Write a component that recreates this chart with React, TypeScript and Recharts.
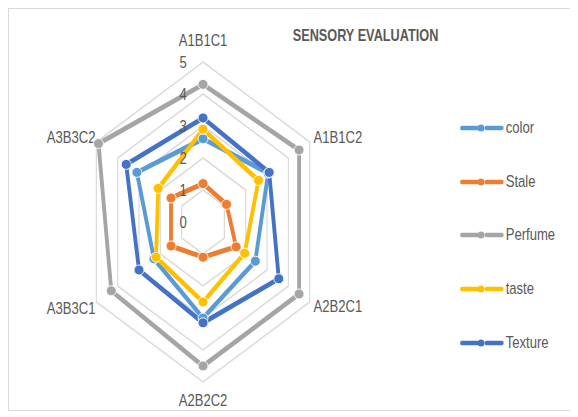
import React from 'react';
import { RadarChart, Radar, PolarGrid, PolarAngleAxis, PolarRadiusAxis, Legend } from 'recharts';

// values
const categories = ['A1B1C1', 'A1B1C2', 'A2B2C1', 'A2B2C2', 'A3B3C1', 'A3B3C2'];
const color = [2.6, 3.05, 2.45, 3.0, 2.3, 3.1];
const stale = [1.2, 1.1, 1.55, 1.1, 1.5, 1.5];
const perfume = [4.3, 4.5, 4.5, 4.5, 4.3, 4.9];
const taste = [2.9, 2.6, 1.95, 2.5, 2.2, 2.1];
const texture = [3.25, 3.1, 3.55, 3.15, 3.0, 3.6];
const radiusTicks = [0, 1, 2, 3, 4, 5];

const SERIES = [
  { key: 'color', values: color, stroke: '#5B9BD5' },
  { key: 'Stale', values: stale, stroke: '#ED7D31' },
  { key: 'Perfume', values: perfume, stroke: '#A5A5A5' },
  { key: 'taste', values: taste, stroke: '#FFC000' },
  { key: 'Texture', values: texture, stroke: '#4472C4' },
];

const data = categories.map((name, i) => {
  const row: Record<string, string | number> = { name };
  SERIES.forEach((s) => {
    row[s.key] = s.values[i];
  });
  return row;
});

// the original picture is squeezed horizontally, so draw wide and squeeze
const SX = 0.77;
const W = 564 / SX;
const H = 401;
const CX = 252;
const CY = 213;
const R = 160;
const FONT = '"Liberation Sans", Arial, sans-serif';
const GREY = '#595959';

const AngleTick = (props: any) => {
  const idx = categories.indexOf(props.payload.value);
  const ang = ((90 - 60 * idx) * Math.PI) / 180;
  const vx = CX + R * Math.cos(ang);
  const vy = CY - R * Math.sin(ang);
  let x = vx;
  let y = vy;
  let anchor: 'start' | 'middle' | 'end' = 'middle';
  if (idx === 0) y = vy - 22;
  else if (idx === 3) y = vy + 18;
  else if (idx === 1 || idx === 2) {
    x = vx + 5;
    anchor = 'start';
    y = idx === 1 ? vy - 5 : vy + 4;
  } else {
    x = vx - 1;
    anchor = 'end';
    y = idx === 5 ? vy - 5 : vy + 6;
  }
  return (
    <text x={x} y={y} textAnchor={anchor} dominantBaseline="central" fill={GREY} fontSize={17} fontFamily={FONT}>
      {props.payload.value}
    </text>
  );
};

const RadiusTick = (props: any) => (
  <text x={props.x - 26} y={props.y} textAnchor="middle" dominantBaseline="central" fill={GREY} fontSize={17} fontFamily={FONT}>
    {props.payload.value}
  </text>
);

const makeDot = (fill: string) => (props: any) => (
  <ellipse key={`dot-${fill}-${props.index}`} cx={props.cx} cy={props.cy} rx={5 / SX} ry={5} fill={fill} stroke="#fff" strokeWidth={1} />
);

const LegendContent = () => (
  <div style={{ position: 'relative', width: W, height: H }}>
    {SERIES.map((s, i) => (
      <div key={s.key} style={{ position: 'absolute', left: 586, top: 119 + i * 53.7, height: 0 }}>
        <svg width={60} height={12} style={{ position: 'absolute', left: 0, top: -6 }}>
          <line x1={2} y1={6} x2={22} y2={6} stroke={s.stroke} strokeWidth={4.7} strokeLinecap="round" />
          <ellipse cx={27} cy={6} rx={3.5 / SX} ry={3.5} fill={s.stroke} />
          <line x1={34} y1={6} x2={54} y2={6} stroke={s.stroke} strokeWidth={4.7} strokeLinecap="round" />
        </svg>
        <span
          style={{
            position: 'absolute',
            left: 59,
            top: -11,
            fontFamily: FONT,
            fontSize: 17,
            lineHeight: '22px',
            color: GREY,
            whiteSpace: 'nowrap',
          }}
        >
          {s.key}
        </span>
      </div>
    ))}
  </div>
);

export default function App() {
  return (
    <div
      style={{
        position: 'relative',
        width: 566,
        height: 403,
        border: '1px solid #D9D9D9',
        boxSizing: 'border-box',
        overflow: 'hidden',
        background: '#fff',
      }}
    >
      <div style={{ position: 'absolute', left: 0, top: 0, width: W, height: H, transform: `scaleX(${SX})`, transformOrigin: '0 0' }}>
        <div
          style={{
            position: 'absolute',
            left: 463,
            top: 25.5,
            transform: 'translate(-50%, -50%)',
            fontFamily: FONT,
            fontWeight: 'bold',
            fontSize: 16.5,
            color: GREY,
            whiteSpace: 'nowrap',
          }}
        >
          SENSORY EVALUATION
        </div>
        <RadarChart width={W} height={H} data={data} cx={CX} cy={CY} outerRadius={R} margin={{ top: 0, right: 0, bottom: 0, left: 0 }}>
          <PolarGrid gridType="polygon" radialLines={false} stroke="#D9D9D9" strokeWidth={1.5} />
          <PolarAngleAxis dataKey="name" tick={AngleTick} tickLine={false} axisLine={false} />
          <PolarRadiusAxis angle={90} domain={[0, 5]} ticks={radiusTicks as any} tickCount={6} axisLine={false} tick={RadiusTick} />
          {SERIES.map((s) => (
            <Radar
              key={s.key}
              name={s.key}
              dataKey={s.key}
              stroke={s.stroke}
              strokeWidth={5}
              fill="none"
              fillOpacity={0}
              dot={makeDot(s.stroke)}
              isAnimationActive={false}
            />
          ))}
          <Legend content={LegendContent} wrapperStyle={{ position: 'absolute', left: 0, top: 0, width: W, height: H }} />
        </RadarChart>
      </div>
    </div>
  );
}
